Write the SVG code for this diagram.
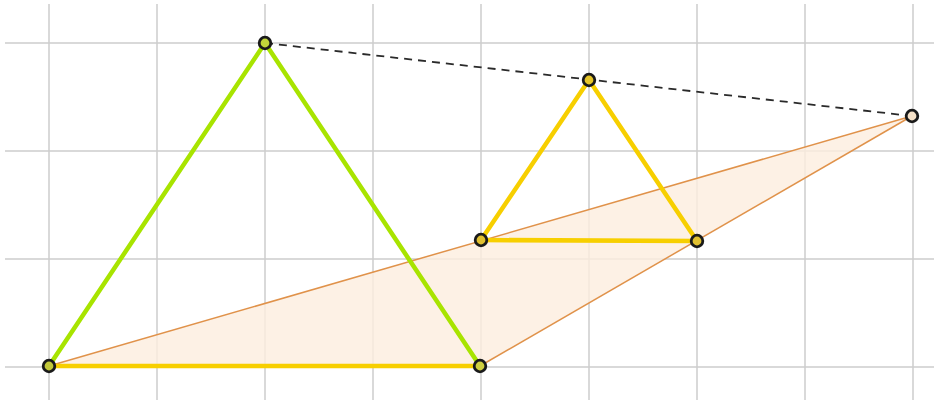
<svg xmlns="http://www.w3.org/2000/svg" width="936" height="403" viewBox="0 0 936 403">
<style>
.grid{stroke:#cdcdcd;stroke-width:1.5}
.green{stroke:#a8e400;stroke-width:4.5;fill:none;stroke-linecap:round}
.yellow{stroke:#f7cf00;stroke-width:4.5;fill:none;stroke-linecap:round}
.orange{stroke:#e0924a;stroke-width:1.5;fill:none}
.dash{stroke:#2a2a2a;stroke-width:1.8;stroke-dasharray:8,6;fill:none}
.pt{stroke:#1a1a1a;stroke-width:2.8}
</style>
<rect width="936" height="403" fill="#ffffff"/>
<g id="grid">
<line class="grid" x1="49" y1="4" x2="49" y2="400"/>
<line class="grid" x1="157" y1="4" x2="157" y2="400"/>
<line class="grid" x1="265" y1="4" x2="265" y2="400"/>
<line class="grid" x1="373" y1="4" x2="373" y2="400"/>
<line class="grid" x1="481" y1="4" x2="481" y2="400"/>
<line class="grid" x1="589" y1="4" x2="589" y2="400"/>
<line class="grid" x1="697" y1="4" x2="697" y2="400"/>
<line class="grid" x1="805" y1="4" x2="805" y2="400"/>
<line class="grid" x1="913" y1="4" x2="913" y2="400"/>
<line class="grid" x1="5" y1="43" x2="934" y2="43"/>
<line class="grid" x1="5" y1="151" x2="934" y2="151"/>
<line class="grid" x1="5" y1="259" x2="934" y2="259"/>
<line class="grid" x1="5" y1="367" x2="934" y2="367"/>
</g>
<g id="connectors">
<polygon points="49,366 912,116 480,366" fill="#fdeede" fill-opacity="0.8" stroke="none"/>
<line class="orange" x1="49" y1="366" x2="912" y2="116"/>
<line class="orange" x1="480" y1="366" x2="912" y2="116"/>
<line class="green" x1="265" y1="43" x2="49" y2="366"/>
<line class="green" x1="265" y1="43" x2="480" y2="366"/>
<line class="yellow" x1="49" y1="366" x2="480" y2="366"/>
<line class="yellow" x1="589" y1="80" x2="481" y2="240"/>
<line class="yellow" x1="589" y1="80" x2="697" y2="241"/>
<line class="yellow" x1="481" y1="240" x2="697" y2="241"/>
<line class="dash" x1="265" y1="43" x2="912" y2="116"/>
</g>
<g id="A"><circle class="pt" cx="265" cy="43" r="5.8" fill="#c2d63a"/></g>
<g id="B"><circle class="pt" cx="589" cy="80" r="5.8" fill="#e6c52a"/></g>
<g id="C"><circle class="pt" cx="912" cy="116" r="5.8" fill="#f6e2c8"/></g>
<g id="D"><circle class="pt" cx="481" cy="240" r="5.8" fill="#e0c030"/></g>
<g id="E"><circle class="pt" cx="697" cy="241" r="5.8" fill="#e0c030"/></g>
<g id="F"><circle class="pt" cx="49" cy="366" r="5.8" fill="#c2c83a"/></g>
<g id="G"><circle class="pt" cx="480" cy="366" r="5.8" fill="#d0d040"/></g>
</svg>
